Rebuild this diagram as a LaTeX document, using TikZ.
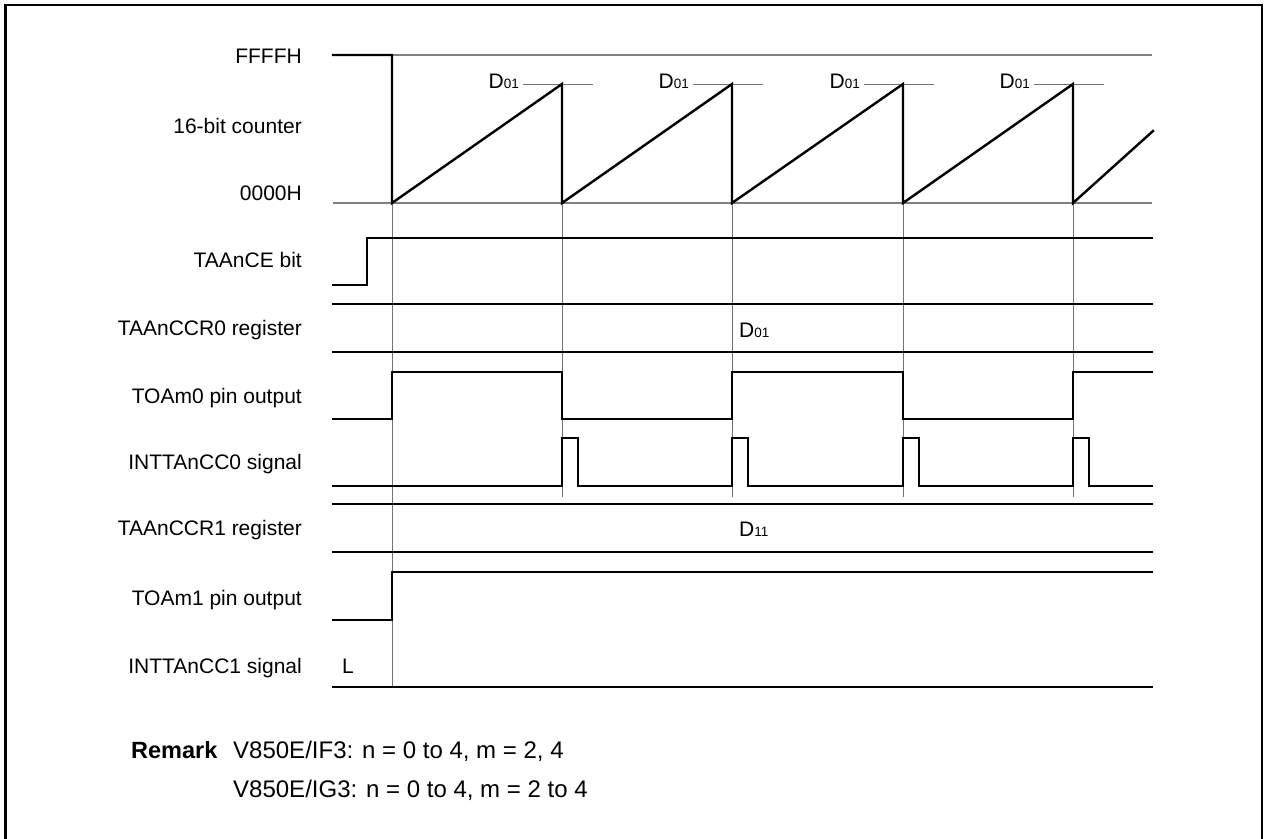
\documentclass[tikz,border=0pt]{standalone}
\usepackage{fontspec}
\setmainfont{Liberation Sans}
\begin{document}
\begin{tikzpicture}[x=1pt,y=-1pt,
  sig/.style={line width=2.4pt, line join=miter, line cap=rect},
  gridv/.style={line width=1pt, draw=black!55},
  gridh/.style={line width=1.2pt, draw=black!50},
  lvl/.style={line width=1pt, draw=black!55},
  lbl/.style={anchor=base east, inner sep=0pt, font=\fontsize{21}{25}\selectfont},
  val/.style={inner sep=0pt, font=\fontsize{21}{25}\selectfont},
  rem/.style={anchor=base west, inner sep=0pt, font=\fontsize{24}{28}\selectfont},
]
\useasboundingbox (0,0) rectangle (1265,838);
\draw[line width=2.7pt] (5.5,850) -- (5.5,5) -- (1262,5) -- (1262,850);

% labels
\node[lbl] (lF) at (302,63) {FFFFH};
\node[lbl] (lC) at (302,133) {16-bit counter};
\node[lbl] (l0) at (302,200) {0000H};
\node[lbl] (lCE) at (302,267) {TAAnCE bit};
\node[lbl] (lR0) at (302,335) {TAAnCCR0 register};
\node[lbl] (lT0) at (302,403) {TOAm0 pin output};
\node[lbl] (lI0) at (302,469) {INTTAnCC0 signal};
\node[lbl] (lR1) at (302,535) {TAAnCCR1 register};
\node[lbl] (lT1) at (302,605) {TOAm1 pin output};
\node[lbl] (lI1) at (302,673) {INTTAnCC1 signal};

% grid lines
\draw[gridh] (392,55) -- (1152,55);
\draw[gridh] (333,203) -- (1152,203);
\draw[gridv] (392,203) -- (392,687);
\foreach \x in {562,732,903,1073} {
  \draw[gridv] (\x,203) -- (\x,497);
}

% D01 level marks
\foreach \x [count=\i] in {562,732,903,1073} {
  \draw[lvl] (\x-39,84) -- (\x+31,84);
  \node[val, anchor=base east] (d\i) at (\x-43,88) {D{\fontsize{13.5}{15}\selectfont 01}};
}

% counter
\draw[sig] (333,55) -- (392,55) -- (392,203) -- (562,84) -- (562,203) -- (732,84) -- (732,203)
  -- (903,84) -- (903,203) -- (1073,84) -- (1073,203) -- (1153,131);

% TAAnCE bit
\draw[sig] (333,285) -- (367,285) -- (367,238) -- (1152,238);

% TAAnCCR0 register
\draw[sig] (333,304) -- (1152,304);
\draw[sig] (333,352) -- (1152,352);
\node[val, anchor=base west] (r0) at (739,337) {D{\fontsize{13.5}{15}\selectfont 01}};

% TOAm0
\draw[sig] (333,419) -- (392,419) -- (392,372) -- (562,372) -- (562,419) -- (732,419) -- (732,372)
  -- (903,372) -- (903,419) -- (1073,419) -- (1073,372) -- (1152,372);

% INTTAnCC0
\draw[sig] (333,486) -- (562,486) -- (562,438) -- (578,438) -- (578,486)
  -- (732,486) -- (732,438) -- (748,438) -- (748,486)
  -- (903,486) -- (903,438) -- (919,438) -- (919,486)
  -- (1073,486) -- (1073,438) -- (1089,438) -- (1089,486) -- (1152,486);

% TAAnCCR1 register
\draw[sig] (333,504) -- (1152,504);
\draw[sig] (333,552) -- (1152,552);
\node[val, anchor=base west] (r1) at (739,536) {D{\fontsize{13.5}{15}\selectfont 11}};

% TOAm1
\draw[sig] (333,620) -- (392,620) -- (392,572) -- (1152,572);

% INTTAnCC1
\draw[sig] (333,687) -- (1152,687);
\node[val, anchor=base west] (L) at (342,673) {L};

% Remark
\node[rem, font=\fontsize{23.5}{27}\selectfont\bfseries] (remk) at (131,758) {Remark};
\node[rem] (rem1) at (233,758) {V850E/IF3: n = 0 to 4, m = 2, 4};
\node[rem] (rem2) at (233,797) {V850E/IG3: n = 0 to 4, m = 2 to 4};
\end{tikzpicture}
\end{document}
